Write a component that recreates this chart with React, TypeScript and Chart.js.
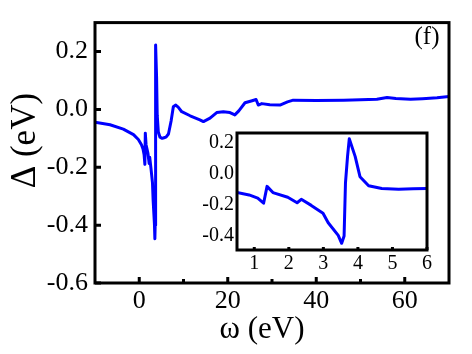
import React, { useEffect, useRef } from "react";
import { Chart, registerables } from "chart.js";
Chart.register(...registerables);

// ω (eV) and Δ (eV)
const omega = [
  -10, -6.6, -3.6, -1.3, -0.2, 0.5, 0.85, 1.1, 1.27, 1.37, 1.54, 1.97, 2.24, 2.36,
  2.65, 2.99, 3.14, 3.43, 3.53, 3.6, 3.64, 3.7, 3.75, 3.92, 4.06, 4.31, 4.69, 5.18,
  5.6, 6.05, 6.6, 7.2, 7.7, 8.2, 8.8, 9.6, 11.5, 13.7, 14.5, 16, 17.5, 19, 20.5,
  21.6, 22.5, 23.9, 25.5, 26.4, 26.9, 27.7, 29.5, 31.8, 33.5, 34.8, 40, 46.2, 50,
  53.7, 56, 58, 61.3, 64, 67.3, 70,
];
const delta = [
  -0.044, -0.053, -0.068, -0.087, -0.104, -0.122, -0.137, -0.157, -0.19, -0.082,
  -0.122, -0.152, -0.187, -0.165, -0.204, -0.254, -0.315, -0.396, -0.447, -0.4,
  -0.06, 0.11, 0.223, 0.11, -0.02, -0.078, -0.096, -0.1, -0.098, -0.096, -0.085,
  -0.04, 0.009, 0.015, 0.008, -0.008, -0.022, -0.036, -0.042, -0.03, -0.011,
  -0.008, -0.011, -0.019, -0.005, 0.023, 0.03, 0.034, 0.015, 0.02, 0.016, 0.015,
  0.026, 0.032, 0.031, 0.032, 0.033, 0.035, 0.041, 0.038, 0.035, 0.037, 0.04, 0.045,
];

const mainXTicks = [0, 20, 40, 60];
const mainXMinor = [10, 30, 50];
const mainYTicks = [-0.6, -0.4, -0.2, 0.0, 0.2];
const insetXTicks = [1, 2, 3, 4, 5, 6];
const insetYTicks = [-0.4, -0.2, 0.0, 0.2];

const xTitle = "ω (eV)";
const yTitle = "Δ (eV)";
const panelLabel = "(f)";

const FONT = "Liberation Serif";
const BLUE = "#0000ff";

Chart.defaults.font.family = FONT;

function points() {
  return omega.map((x, i) => ({ x, y: delta[i] }));
}

type Deco = {
  xMajor: number[];
  xMinor: number[];
  yMajor: number[];
  majorLen: number;
  minorLen: number;
  frameWidth: number;
  texts: boolean;
};

function decoPlugin(d: Deco) {
  return {
    id: "deco",
    beforeDraw(chart: any) {
      const { ctx, chartArea: a } = chart;
      ctx.save();
      ctx.fillStyle = "#fff";
      ctx.fillRect(a.left, a.top, a.right - a.left, a.bottom - a.top);
      ctx.restore();
    },
    afterDraw(chart: any) {
      const { ctx, chartArea: a, scales } = chart;
      ctx.save();
      ctx.strokeStyle = "#000";
      ctx.lineWidth = d.frameWidth;
      ctx.lineCap = "butt";
      ctx.beginPath();
      for (const v of d.xMajor) {
        const px = scales.x.getPixelForValue(v);
        ctx.moveTo(px, a.bottom);
        ctx.lineTo(px, a.bottom - d.majorLen);
      }
      for (const v of d.xMinor) {
        const px = scales.x.getPixelForValue(v);
        ctx.moveTo(px, a.bottom);
        ctx.lineTo(px, a.bottom - d.minorLen);
      }
      for (const v of d.yMajor) {
        const py = scales.y.getPixelForValue(v);
        ctx.moveTo(a.left, py);
        ctx.lineTo(a.left + d.majorLen, py);
      }
      ctx.stroke();
      ctx.strokeRect(a.left, a.top, a.right - a.left, a.bottom - a.top);
      if (d.texts) {
        ctx.fillStyle = "#000";
        ctx.textAlign = "center";
        ctx.textBaseline = "alphabetic";
        ctx.font = `31px "${FONT}", serif`;
        ctx.fillText(xTitle, a.left + 167, 338);
        ctx.save();
        ctx.translate(35, a.top + 118);
        ctx.rotate(-Math.PI / 2);
        ctx.font = `35px "${FONT}", serif`;
        ctx.fillText(yTitle, 0, 0);
        ctx.restore();
        ctx.font = `25px "${FONT}", serif`;
        ctx.fillText(panelLabel, a.right - 22, a.top + 21);
      }
      ctx.restore();
    },
  };
}

function makeConfig(opts: {
  xmin: number; xmax: number; ymin: number; ymax: number;
  xTicks: number[]; yTicks: number[];
  yWidth: number; xHeight: number; padTop: number; padRight: number;
  fontSize: number; xPad: number; yPad: number; lineWidth: number;
  deco: Deco;
}): any {
  return {
    type: "line",
    data: {
      datasets: [
        {
          data: points(),
          borderColor: BLUE,
          borderWidth: opts.lineWidth,
          pointRadius: 0,
          tension: 0,
          fill: false,
          borderJoinStyle: "round",
          borderCapStyle: "round",
        },
      ],
    },
    options: {
      responsive: false,
      animation: false,
      events: [],
      layout: { padding: { top: opts.padTop, right: opts.padRight, left: 0, bottom: 0 } },
      plugins: { legend: { display: false }, tooltip: { enabled: false } },
      scales: {
        x: {
          type: "linear",
          min: opts.xmin,
          max: opts.xmax,
          grid: { display: false, drawTicks: false },
          border: { display: false },
          ticks: {
            color: "#000",
            font: { family: FONT, size: opts.fontSize },
            padding: opts.xPad,
            maxRotation: 0,
            autoSkip: false,
            callback: (v: any) => String(v),
          },
          afterBuildTicks: (s: any) => {
            s.ticks = opts.xTicks.map((v) => ({ value: v }));
          },
          afterFit: (s: any) => {
            s.height = opts.xHeight;
          },
        },
        y: {
          type: "linear",
          min: opts.ymin,
          max: opts.ymax,
          grid: { display: false, drawTicks: false },
          border: { display: false },
          ticks: {
            color: "#000",
            font: { family: FONT, size: opts.fontSize },
            padding: opts.yPad,
            autoSkip: false,
            callback: (v: any) => Number(v).toFixed(1),
          },
          afterBuildTicks: (s: any) => {
            s.ticks = opts.yTicks.map((v) => ({ value: v }));
          },
          afterFit: (s: any) => {
            s.width = opts.yWidth;
          },
        },
      },
    },
    plugins: [decoPlugin(opts.deco)],
  };
}

export default function App() {
  const mainRef = useRef<HTMLCanvasElement>(null);
  const insetRef = useRef<HTMLCanvasElement>(null);

  useEffect(() => {
    const main = new Chart(
      mainRef.current!,
      makeConfig({
        xmin: -10, xmax: 70, ymin: -0.6, ymax: 0.3,
        xTicks: mainXTicks, yTicks: mainYTicks,
        yWidth: 95, xHeight: 71, padTop: 18, padRight: 23,
        fontSize: 26, xPad: 3, yPad: 7, lineWidth: 3,
        deco: {
          xMajor: mainXTicks, xMinor: mainXMinor, yMajor: mainYTicks,
          majorLen: 6, minorLen: 4, frameWidth: 3, texts: true,
        },
      })
    );
    const inset = new Chart(
      insetRef.current!,
      makeConfig({
        xmin: 0.5, xmax: 6, ymin: -0.49, ymax: 0.26,
        xTicks: insetXTicks, yTicks: insetYTicks,
        yWidth: 47, xHeight: 33, padTop: 9, padRight: 13,
        fontSize: 20, xPad: 2, yPad: 3, lineWidth: 3,
        deco: {
          xMajor: insetXTicks, xMinor: [], yMajor: [],
          majorLen: 3, minorLen: 2, frameWidth: 3, texts: false,
        },
      })
    );
    return () => {
      main.destroy();
      inset.destroy();
    };
  }, []);

  return (
    <div style={{ position: "fixed", left: 0, top: 0, width: 472, height: 354, background: "#fff" }}>
      <canvas ref={mainRef} width={472} height={354} style={{ position: "absolute", left: 0, top: 0, display: "block" }} />
      <canvas ref={insetRef} width={250} height={165} style={{ position: "absolute", left: 190, top: 118, display: "block" }} />
    </div>
  );
}
